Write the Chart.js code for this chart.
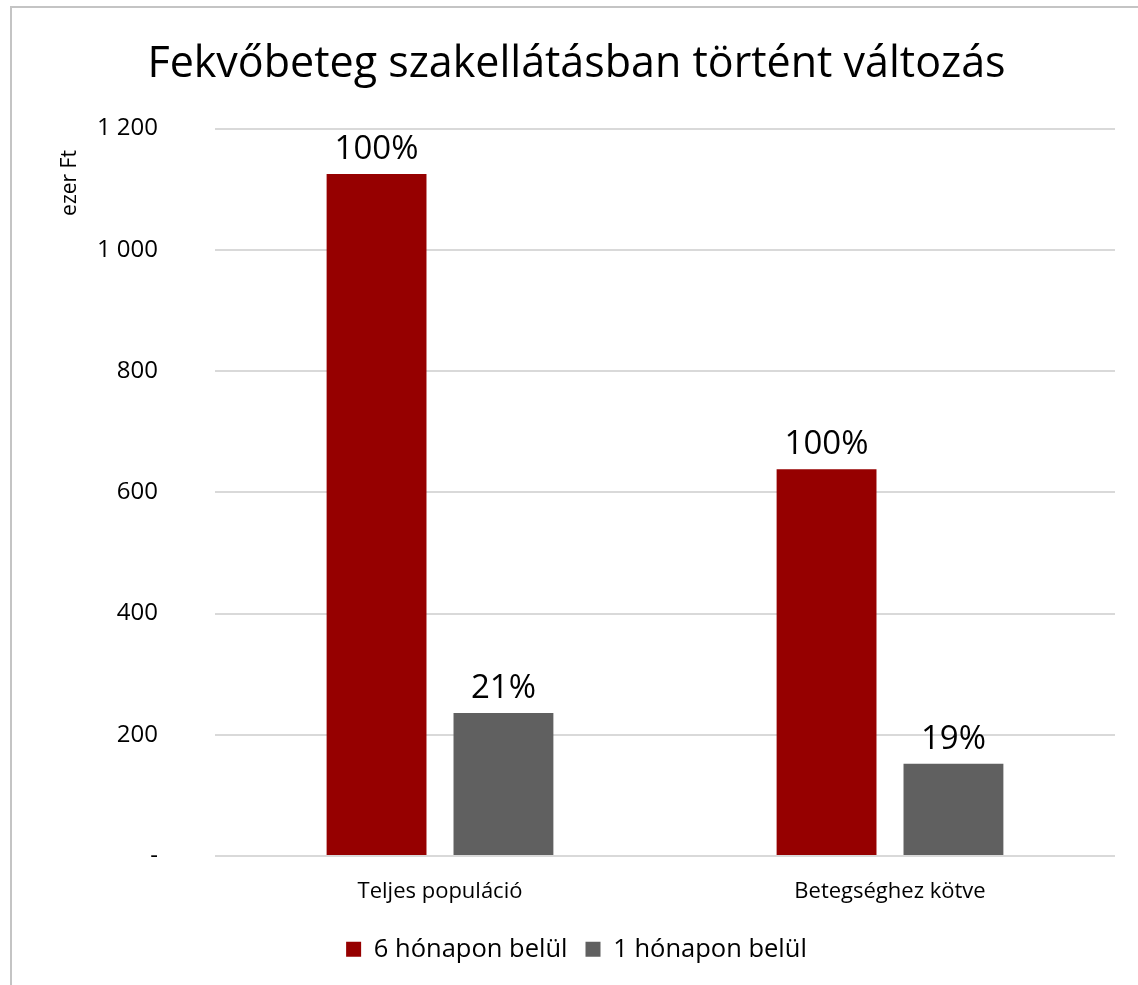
<!DOCTYPE html>
<html>
<head>
<meta charset="utf-8">
<script src="https://cdn.jsdelivr.net/npm/chart.js@4/dist/chart.umd.min.js"></script>
<style>
  html, body { margin: 0; padding: 0; background: #fff; }
  #wrap { width: 1138px; height: 985px; }
</style>
</head>
<body>
<div id="wrap"><canvas id="mainChart" width="1138" height="985"></canvas></div>
<script>
// chart data
const categories = ['Teljes populáció', 'Betegséghez kötve'];
const sixMonths = [1125, 638];
const oneMonth = [236, 152];
const sixMonthLabels = ['100%', '100%'];
const oneMonthLabels = ['21%', '19%'];
const yTicks = [0, 200, 400, 600, 800, 1000, 1200];

const FONT = "'Open Sans', 'Noto Sans', sans-serif";

// thousands with space, zero shown as dash
const fmtTick = (val) => val === 0 ? '-' : String(val).replace(/\B(?=(\d{3})+(?!\d))/g, ' ');

// frame lines (top + left) and y-axis title
const framePlugin = {
    id: 'frame',
    beforeDraw(chart) {
        const c = chart.ctx;
        c.save();
        c.fillStyle = '#fff';
        c.fillRect(0, 0, chart.width, chart.height);
        c.strokeStyle = '#c4c4c4';
        c.lineWidth = 2;
        c.beginPath();
        c.moveTo(11, chart.height);
        c.lineTo(11, 7);
        c.lineTo(chart.width, 7);
        c.stroke();
        c.restore();
    },
    afterDraw(chart) {
        const c = chart.ctx;
        c.save();
        c.translate(70, 183);
        c.rotate(-Math.PI / 2);
        c.fillStyle = '#000';
        c.font = `21px ${FONT}`;
        c.textAlign = 'center';
        c.textBaseline = 'middle';
        c.fillText('ezer Ft', 0, 0);
        c.restore();
    }
};

// percentage labels over each bar
const barLabels = {
    id: 'barLabels',
    afterDatasetsDraw(chart) {
        const c = chart.ctx;
        const sets = [sixMonthLabels, oneMonthLabels];
        c.save();
        c.fillStyle = '#000';
        c.font = `33px ${FONT}`;
        c.textAlign = 'center';
        c.textBaseline = 'alphabetic';
        chart.data.datasets.forEach((ds, i) => {
            chart.getDatasetMeta(i).data.forEach((bar, j) => {
                c.fillText(sets[i][j], bar.x, bar.y - 15);
            });
        });
        c.restore();
    }
};

new Chart(document.getElementById('mainChart').getContext('2d'), {
    type: 'bar',
    data: {
        labels: categories,
        datasets: [{
            label: '6 hónapon belül',
            data: sixMonths,
            backgroundColor: '#960000',
            barPercentage: 0.787,
            categoryPercentage: 0.564
        }, {
            label: '1 hónapon belül',
            data: oneMonth,
            backgroundColor: '#606060',
            barPercentage: 0.787,
            categoryPercentage: 0.564
        }]
    },
    options: {
        responsive: false,
        animation: false,
        layout: { padding: { left: 38, right: 23, top: 0, bottom: 13 } },
        plugins: {
            title: {
                display: true,
                text: 'Fekvőbeteg szakellátásban történt változás',
                color: '#000',
                font: { family: FONT, size: 43, weight: 'normal' },
                padding: { top: 39, bottom: 38 }
            },
            legend: {
                position: 'bottom',
                labels: {
                    color: '#000',
                    font: { family: FONT, size: 25.5 },
                    boxWidth: 15,
                    boxHeight: 15,
                    padding: 18
                }
            },
            tooltip: { enabled: false }
        },
        scales: {
            x: {
                grid: { display: false },
                border: { display: false },
                ticks: {
                    color: '#000',
                    font: { family: FONT, size: 22 },
                    padding: 15
                },
                afterFit: (scale) => { scale.height = 62.5; }
            },
            y: {
                min: 0,
                max: 1200,
                afterBuildTicks: (scale) => { scale.ticks = yTicks.map(v => ({ value: v })); },
                grid: { color: '#d9d9d9', lineWidth: 2, drawTicks: false },
                border: { display: false },
                ticks: {
                    color: '#000',
                    font: { family: FONT, size: 24 },
                    padding: 57,
                    callback: (val) => fmtTick(val)
                },
                afterFit: (scale) => { scale.width = 177; }
            }
        }
    },
    plugins: [framePlugin, barLabels]
});
</script>
</body>
</html>
